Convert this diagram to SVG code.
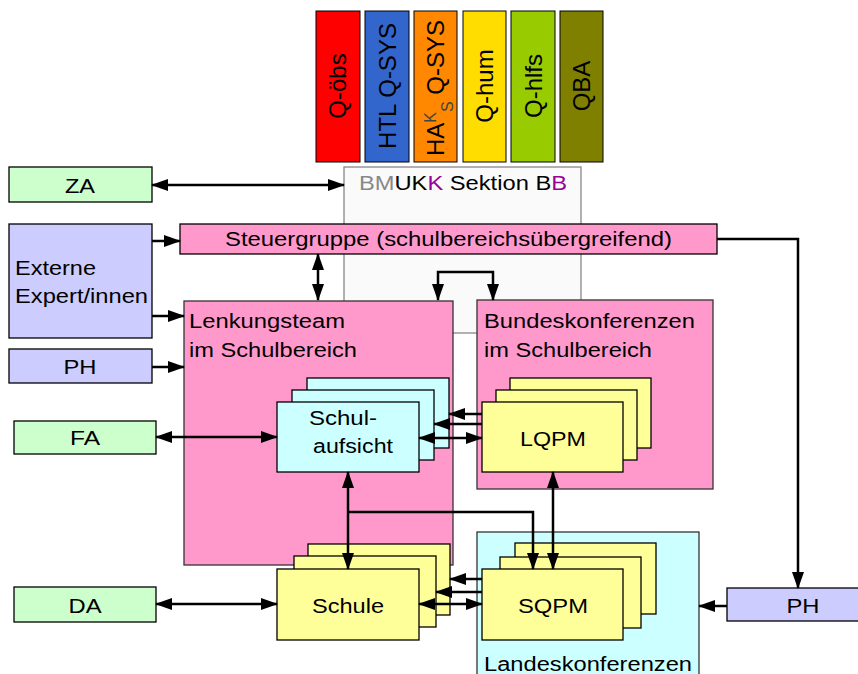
<svg xmlns="http://www.w3.org/2000/svg" width="858" height="674" viewBox="0 0 858 674">
<style>
.t{font-family:"Liberation Sans",Arial,sans-serif;font-size:20px;fill:#000}
.tv{font-family:"Liberation Sans",Arial,sans-serif;font-size:24px;fill:#000}
.b{stroke:#000;stroke-width:1.3}
.bar{stroke:#000;stroke-width:1}
.conn path{stroke:#000;stroke-width:2.5;fill:none}
.ab{marker-start:url(#ah);marker-end:url(#ah)}
.ae{marker-end:url(#ah)}
</style>
<defs>
<marker id="ah" markerUnits="userSpaceOnUse" markerWidth="17" markerHeight="12" refX="16" refY="6" orient="auto-start-reverse">
<path d="M0,0 L17,6 L0,12 Z" fill="#000"/>
</marker>
</defs>
<rect width="858" height="674" fill="#fff"/>

<g id="q-obs"><rect class="bar" x="316" y="11" width="44" height="151" fill="#ff0000"/><text class="tv" text-anchor="middle" transform="translate(346,86) rotate(-90)">Q-öbs</text></g>
<g id="htl-qsys"><rect class="bar" x="365" y="11" width="44" height="151" fill="#3366cc"/><text class="tv" text-anchor="middle" transform="translate(396,86) rotate(-90)">HTL Q-SYS</text></g>
<g id="haks-qsys"><rect class="bar" x="414" y="11" width="43" height="151" fill="#ff8800"/><text class="tv" text-anchor="middle" transform="translate(444,88) rotate(-90)">HA<tspan font-size="16" baseline-shift="super" fill="#444">K</tspan><tspan font-size="16" baseline-shift="sub" fill="#444">S</tspan> Q-SYS</text></g>
<g id="q-hum"><rect class="bar" x="463" y="11" width="43" height="151" fill="#ffdd00"/><text class="tv" text-anchor="middle" transform="translate(493,86) rotate(-90)">Q-hum</text></g>
<g id="q-hlfs"><rect class="bar" x="511" y="11" width="44" height="151" fill="#99cc00"/><text class="tv" text-anchor="middle" transform="translate(542,86) rotate(-90)">Q-hlfs</text></g>
<g id="qba"><rect class="bar" x="560" y="11" width="43" height="151" fill="#808000"/><text class="tv" text-anchor="middle" transform="translate(590,86) rotate(-90)">QBA</text></g>

<g id="bmukk"><rect x="344" y="167" width="237" height="166" fill="#fafafa" stroke="#888" stroke-width="1.3"/><text class="t" x="359" y="190" textLength="208" lengthAdjust="spacingAndGlyphs"><tspan fill="#888">BM</tspan>UK<tspan fill="#990099">K</tspan> Sektion B<tspan fill="#990099">B</tspan></text></g>

<g id="za"><rect class="b" x="9" y="167" width="143" height="35" fill="#ccffcc"/><text class="t" x="80" y="193" text-anchor="middle" textLength="30" lengthAdjust="spacingAndGlyphs">ZA</text></g>
<g id="externe"><rect class="b" x="9" y="224" width="143" height="114" fill="#ccccff"/><text class="t" x="15" y="275" textLength="81" lengthAdjust="spacingAndGlyphs">Externe</text><text class="t" x="15" y="303" textLength="133" lengthAdjust="spacingAndGlyphs">Expert/innen</text></g>
<g id="ph-left"><rect class="b" x="9" y="349" width="143" height="34" fill="#ccccff"/><text class="t" x="80" y="374" text-anchor="middle" textLength="33" lengthAdjust="spacingAndGlyphs">PH</text></g>
<g id="fa"><rect class="b" x="14" y="421" width="142" height="33" fill="#ccffcc"/><text class="t" x="85" y="445" text-anchor="middle" textLength="30" lengthAdjust="spacingAndGlyphs">FA</text></g>
<g id="da"><rect class="b" x="14" y="587" width="142" height="35" fill="#ccffcc"/><text class="t" x="85" y="613" text-anchor="middle" textLength="33" lengthAdjust="spacingAndGlyphs">DA</text></g>

<g id="steuergruppe"><rect class="b" x="180" y="224" width="537" height="30" fill="#ff99cc"/><text class="t" x="225" y="246" textLength="447" lengthAdjust="spacingAndGlyphs">Steuergruppe (schulbereichsübergreifend)</text></g>

<g id="lenkungsteam"><rect x="184" y="301" width="269" height="264" fill="#ff99cc" stroke="#333" stroke-width="1.3"/><text class="t" x="189" y="328" textLength="156" lengthAdjust="spacingAndGlyphs">Lenkungsteam</text><text class="t" x="189" y="357" textLength="168" lengthAdjust="spacingAndGlyphs">im Schulbereich</text></g>
<g id="bundeskonferenzen"><rect x="477" y="300" width="236" height="189" fill="#ff99cc" stroke="#333" stroke-width="1.3"/><text class="t" x="484" y="328" textLength="211" lengthAdjust="spacingAndGlyphs">Bundeskonferenzen</text><text class="t" x="484" y="357" textLength="168" lengthAdjust="spacingAndGlyphs">im Schulbereich</text></g>
<g id="landeskonferenzen"><rect x="477" y="532" width="222" height="150" fill="#ccffff" stroke="#333" stroke-width="1.3"/><text class="t" x="484" y="671" textLength="208" lengthAdjust="spacingAndGlyphs">Landeskonferenzen</text></g>

<g id="schulaufsicht"><rect class="b" x="307" y="378" width="142" height="70" fill="#ccffff"/><rect class="b" x="292" y="390" width="142" height="70" fill="#ccffff"/><rect class="b" x="277" y="402" width="142" height="70" fill="#ccffff"/><text class="t" x="309" y="425" textLength="68" lengthAdjust="spacingAndGlyphs">Schul-</text><text class="t" x="313" y="453" textLength="80" lengthAdjust="spacingAndGlyphs">aufsicht</text></g>
<g id="lqpm"><rect class="b" x="510" y="378" width="141" height="70" fill="#ffff99"/><rect class="b" x="496" y="390" width="141" height="70" fill="#ffff99"/><rect class="b" x="482" y="402" width="141" height="70" fill="#ffff99"/><text class="t" x="553" y="446" text-anchor="middle" textLength="66" lengthAdjust="spacingAndGlyphs">LQPM</text></g>
<g id="schule"><rect class="b" x="308" y="544" width="142" height="71" fill="#ffff99"/><rect class="b" x="294" y="556" width="142" height="71" fill="#ffff99"/><rect class="b" x="277" y="569" width="142" height="71" fill="#ffff99"/><text class="t" x="348" y="613" text-anchor="middle" textLength="72" lengthAdjust="spacingAndGlyphs">Schule</text></g>
<g id="sqpm"><rect class="b" x="515" y="543" width="141" height="71" fill="#ffff99"/><rect class="b" x="500" y="557" width="141" height="71" fill="#ffff99"/><rect class="b" x="482" y="569" width="141" height="71" fill="#ffff99"/><text class="t" x="553" y="613" text-anchor="middle" textLength="70" lengthAdjust="spacingAndGlyphs">SQPM</text></g>
<g id="ph-right"><rect class="b" x="727" y="588" width="140" height="33" fill="#ccccff"/><text class="t" x="803" y="613" text-anchor="middle" textLength="33" lengthAdjust="spacingAndGlyphs">PH</text></g>

<g class="conn" id="connectors">
<path class="ab" d="M152,185 H344"/>
<path class="ae" d="M152,241 H180"/>
<path class="ae" d="M152,316 H184"/>
<path class="ae" d="M152,367 H184"/>
<path class="ab" d="M318,254 V300"/>
<path class="ab" d="M438,300 V272 H493 V300"/>
<path class="ae" d="M717,239 H798 V588"/>
<path class="ae" d="M727,606 H699"/>
<path class="ab" d="M156,437 H277"/>
<path class="ab" d="M156,604 H277"/>
<path class="ae" d="M482,414 H449"/>
<path class="ae" d="M482,424 H434"/>
<path class="ab" d="M419,438 H482"/>
<path class="ae" d="M482,579 H450"/>
<path class="ae" d="M482,592 H436"/>
<path class="ab" d="M419,604 H482"/>
<path class="ab" d="M348,472 V569"/>
<path class="ae" d="M348,512 H533 V569"/>
<path class="ab" d="M553,472 V569"/>
</g>
</svg>
